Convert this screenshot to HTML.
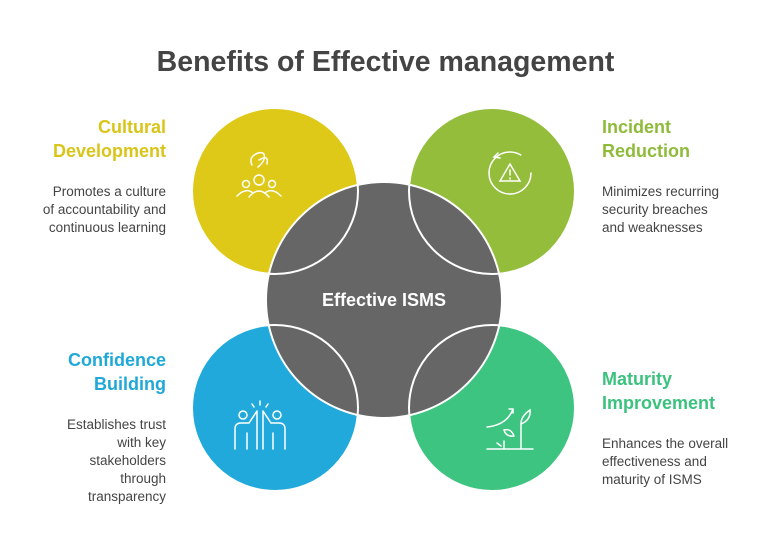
<!DOCTYPE html>
<html><head><style>
body{margin:0;width:779px;height:536px;background:#fff;font-family:"Liberation Sans",sans-serif;position:relative;overflow:hidden}
.t{position:absolute;font-weight:bold;font-size:18px;line-height:24px}
.d{position:absolute;font-size:13.5px;line-height:18px;color:#444}
</style></head><body>
<div style="position:absolute;top:46px;left:0;width:771px;text-align:center;font-size:28.5px;font-weight:bold;color:#444">Benefits of Effective management</div>
<div class="t" style="right:613px;top:115px;text-align:right;color:#d9c519">Cultural<br>Development</div>
<div class="d" style="right:613px;top:183px;text-align:right">Promotes a culture<br>of accountability and<br>continuous learning</div>
<div class="t" style="left:602px;top:115px;color:#8fbb3a">Incident<br>Reduction</div>
<div class="d" style="left:602px;top:183px">Minimizes recurring<br>security breaches<br>and weaknesses</div>
<div class="t" style="right:613px;top:348px;text-align:right;color:#1fa8d8">Confidence<br>Building</div>
<div class="d" style="right:613px;top:416px;text-align:right">Establishes trust<br>with key<br>stakeholders<br>through<br>transparency</div>
<div class="t" style="left:602px;top:367px;color:#3cc17f">Maturity<br>Improvement</div>
<div class="d" style="left:602px;top:435px">Enhances the overall<br>effectiveness and<br>maturity of ISMS</div>
<svg width="779" height="536" style="position:absolute;left:0;top:0">
<circle cx="275" cy="191" r="83" fill="#dfc918"/>
<circle cx="492" cy="191" r="83" fill="#93bd3b"/>
<circle cx="275" cy="408" r="83" fill="#20a9da"/>
<circle cx="492" cy="408" r="83" fill="#3dc480"/>
<circle cx="384" cy="300" r="118" fill="#666"/>
<g fill="none" stroke="#fff" stroke-width="2">
<circle cx="275" cy="191" r="83"/><circle cx="492" cy="191" r="83"/>
<circle cx="275" cy="408" r="83"/><circle cx="492" cy="408" r="83"/>
<circle cx="384" cy="300" r="118"/>
</g>
<text x="384" y="306" text-anchor="middle" font-family="Liberation Sans" font-weight="bold" font-size="18" fill="#fff">Effective ISMS</text>
<g fill="none" stroke="#fff" stroke-width="1.5" stroke-linecap="round">
<circle cx="259" cy="180" r="5"/><circle cx="246" cy="184" r="3.5"/><circle cx="272" cy="184" r="3.5"/>
<path d="M249 197q10-12 20 0M237 196q9-9 16-3M265 193q7-6 16 3"/>
<path d="M252 165q-4-8 6-12q8-2 6 6q-1 4-6 8M259 160q10-6 8 4"/>
<circle cx="510" cy="173" r="21" stroke-dasharray="110 22"/>
<path d="M498 153l-4 4 6 1"/>
<path d="M510 164l10 17h-20z"/><path d="M510 170v5M510 178v1"/>
<circle cx="243" cy="415" r="4"/><circle cx="277" cy="415" r="4"/>
<path d="M235 449v-20q0-6 6-6h8l8-12M285 449v-20q0-6-6-6h-8l-8-12M247 449v-16M273 449v-16M257 411v38M263 411v38"/>
<path d="M254 407l-2-3M260 405v-4M266 407l2-3"/>
<path d="M487 449h46M487 427q20-2 26-18M509 409h4v4M521 449v-25q0-8 9-14q1 10-9 14M514 436q-3-8-10-6q2 7 10 6M504 449v-8M497 443l4 3"/>
</g>
</svg>
</body></html>
